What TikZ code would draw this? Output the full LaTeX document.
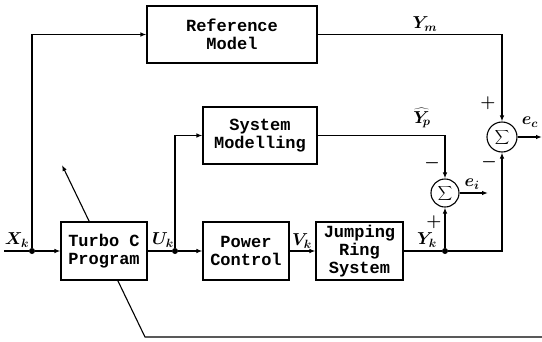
\documentclass[tikz,border=0pt]{standalone}
\usepackage{fontspec}
\setmonofont{Liberation Mono}
\usetikzlibrary{arrows.meta}
\begin{document}
\begin{tikzpicture}[x=1pt,y=-1pt,
    block/.style={draw,line width=1.1pt,fill=white,align=center,inner sep=1pt,
      minimum height=57pt,font=\ttfamily\bfseries\fontsize{17}{18}\selectfont},
    summer/.style={draw,circle,line width=1.1pt,fill=white,minimum size=28pt,
      inner sep=0pt,font=\fontsize{15}{15}\selectfont},
    dot/.style={circle,fill,inner sep=0pt,minimum size=6pt},
    sig/.style={inner sep=0pt,font=\fontsize{17}{17}\selectfont\boldmath},
    sgn/.style={inner sep=0pt,font=\fontsize{17}{17}\selectfont\boldmath},
    wire/.style={line width=1.1pt},
    flow/.style={wire,-{Latex[length=6pt,width=4.5pt]}}
  ]
  \useasboundingbox (0,0) rectangle (542,341);
  \coordinate (tune) at (62,165);
  \coordinate (tunebend) at (145,337);
  \coordinate (tuneend) at (542,337);
  \draw[flow] (tuneend) -- (tunebend) -- (tune);

  \node[block,minimum width=170pt] (refm) at (232,34.5) {Reference\\Model};
  \node[block,minimum width=114pt] (sysm) at (260,135.5) {System\\Modelling};
  \node[block,minimum width=86pt,minimum height=58pt] (turbo) at (104,251) {Turbo C\\Program};
  \node[block,minimum width=86pt,minimum height=58pt] (power) at (246,251) {Power\\Control};
  \node[block,minimum width=87pt,minimum height=58pt] (jrs) at (359.5,251) {Jumping\\Ring\\System};
  \node[summer] (sumi) at (445,193) {$\displaystyle\sum$};
  \node[summer,minimum size=30pt] (sumc) at (502,137) {$\displaystyle\sum$};

  \node[dot] (xk) at (32,251) {};
  \node[dot] (uk) at (175,251) {};
  \node[dot] (yk) at (445,251) {};
  \coordinate (xin) at (4,251);
  \coordinate (eiend) at (488,193);
  \coordinate (ecend) at (542,137);

  \draw[wire] (xin) -- (xk);
  \draw[flow] (xk) -- (turbo);
  \draw[flow] (xk) |- (refm);
  \draw[wire] (turbo) -- (uk);
  \draw[flow] (uk) -- (power);
  \draw[flow] (uk) |- (sysm);
  \draw[flow] (power) -- (jrs);
  \draw[wire] (jrs) -- (yk);
  \draw[flow] (yk) -- (sumi);
  \draw[flow] (yk) -| (sumc);
  \draw[flow] (refm) -| (sumc);
  \draw[flow] (sysm) -| (sumi);
  \draw[flow] (sumi) -- (eiend);
  \draw[flow] (sumc) -- (ecend);

  \node[sig] (xklab) at (17,240) {$X_k$};
  \node[sig] (uklab) at (163,240) {$U_k$};
  \node[sig] (vklab) at (302,241) {$V_k$};
  \node[sig] (yklab) at (427,240) {$Y_k$};
  \node[sig] (ymlab) at (425,24) {$Y_m$};
  \node[sig] (yplab) at (422,118) {$\widehat{Y}_{\!p}$};
  \node[sig] (eclab) at (530,122) {$e_c$};
  \node[sig] (eilab) at (472,184) {$e_i$};
  \node[sgn] (cplus) at (488,103) {$+$};
  \node[sgn] (cminus) at (489,162) {$-$};
  \node[sgn] (iminus) at (432,163) {$-$};
  \node[sgn] (iplus) at (434,222) {$+$};
\end{tikzpicture}
\end{document}
